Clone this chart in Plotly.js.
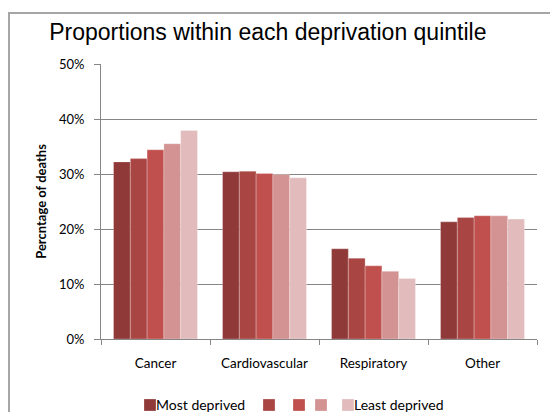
<!DOCTYPE html>
<html>
<head>
<meta charset="utf-8">
<script src="https://cdn.plot.ly/plotly-3.0.1.min.js"></script>
<style>
html,body{margin:0;padding:0;background:#fff;overflow:hidden;}
#wrap{position:relative;width:550px;height:412px;}
#chart{position:absolute;left:0;top:0;width:550px;height:412px;}
#frame{position:absolute;left:8px;top:12px;width:560px;height:420px;border:2px solid #a6a6a6;box-sizing:border-box;pointer-events:none;}
</style>
</head>
<body>
<div id="wrap"><div id="chart"></div><div id="frame"></div></div>
<script>
var categories = ["Cancer", "Cardiovascular", "Respiratory", "Other"];
var legendLabels = ["Most deprived", "", "", "", "Least deprived"];
var q1 = [32.2, 30.4, 16.4, 21.3];
var q2 = [32.8, 30.5, 14.7, 22.1];
var q3 = [34.4, 30.1, 13.3, 22.4];
var q4 = [35.5, 29.9, 12.3, 22.4];
var q5 = [37.9, 29.3, 11.0, 21.8];
var colors = ["#8F3A38", "#A94644", "#C0504D", "#D39392", "#E2BCBC"];
var yTickVals = [0, 10, 20, 30, 40, 50];
var yTickText = ["0%", "10%", "20%", "30%", "40%", "50%"];

var series = [q1, q2, q3, q4, q5];
var legendIds = ["legend", "legend2", "legend3", "legend4", "legend5"];
var traces = series.map(function(vals, i){
  return {
    type: "bar",
    x: categories,
    y: vals,
    name: " ",
    legend: legendIds[i],
    marker: {color: colors[i], line: {color: "rgba(255,255,255,0.5)", width: 0.5}}
  };
});

// plot area: 101..537 px horizontally, 64..339 vertically
var plotL = 101, plotW = 436, plotB = 339, plotH = 275;
function px2x(p){ return (p - plotL) / plotW; }
function py2y(p){ return (plotB - p) / plotH; }
var squareLeft = [144, 263, 293, 315, 342];
var legendY = 404;

var layout = {
  width: 550, height: 412,
  margin: {l: 101, r: 13, t: 64, b: 73, autoexpand: false},
  paper_bgcolor: "#fff", plot_bgcolor: "#fff",
  barmode: "group",
  bargap: 0.23, bargroupgap: 0,
  title: {text: "Proportions within each deprivation quintile", x: 0.487, xanchor: "center", y: 0.922, yanchor: "middle",
          font: {family: "Liberation Sans, Arial, sans-serif", size: 23, color: "#000"}},
  font: {family: "Lato, 'Open Sans', sans-serif", size: 13, color: "#000"},
  xaxis: {
    type: "category",
    showline: true, linecolor: "#868686", linewidth: 1,
    ticks: "outside", tickson: "boundaries", ticklen: 5, tickcolor: "#868686",
    ticklabelstandoff: 12,
    tickfont: {size: 13.5, color: "#000"},
    showgrid: false, zeroline: false, fixedrange: true
  },
  yaxis: {
    range: [0, 50],
    tickvals: yTickVals, ticktext: yTickText,
    showline: true, linecolor: "#868686", linewidth: 1,
    ticks: "outside", ticklen: 6, tickcolor: "#868686",
    ticklabelstandoff: 7,
    showgrid: true, gridcolor: "#868686", gridwidth: 1,
    zeroline: false,
    tickfont: {size: 13, color: "#000"},
    title: {text: "<b>Percntage of deaths</b>", font: {size: 13, color: "#000"}, standoff: 9},
    fixedrange: true
  },
  annotations: [
    {xref: "paper", yref: "paper", x: px2x(154), y: py2y(legendY), xanchor: "left", yanchor: "middle",
     text: legendLabels[0], showarrow: false, font: {size: 14, color: "#000"}},
    {xref: "paper", yref: "paper", x: px2x(352), y: py2y(legendY), xanchor: "left", yanchor: "middle",
     text: legendLabels[4], showarrow: false, font: {size: 14, color: "#000"}}
  ],
  showlegend: true
};
legendIds.forEach(function(id, i){
  layout[id] = {
    orientation: "h", x: px2x(squareLeft[i] - 14), xanchor: "left", y: py2y(legendY + 1), yanchor: "middle",
    font: {size: 12, color: "#000"}, itemwidth: 30, bgcolor: "rgba(0,0,0,0)", borderwidth: 0
  };
});

Plotly.newPlot("chart", traces, layout, {displayModeBar: false, staticPlot: true});
</script>
</body>
</html>
